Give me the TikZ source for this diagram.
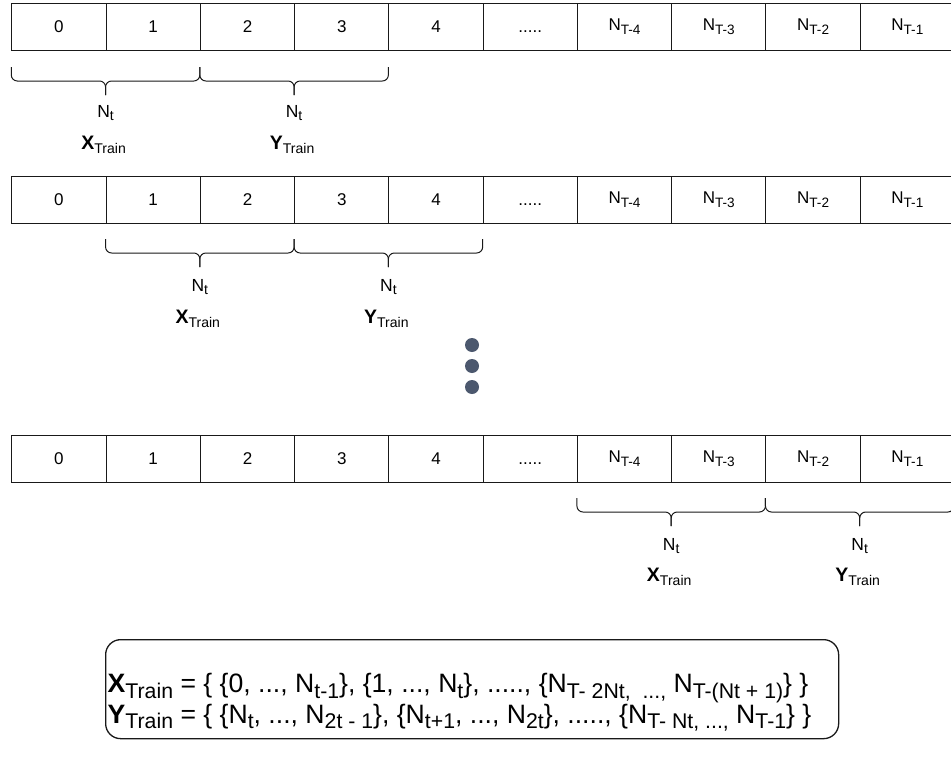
\documentclass[tikz,border=0pt]{standalone}
\usepackage{fontspec}
\setmainfont{Liberation Sans}
\usepackage{graphicx}
\newcommand\Sb[1]{\raisebox{-0.22em}{\scalebox{0.8}{#1}}}
\newcommand\St[1]{\raisebox{-0.22em}{\scalebox{0.72}{#1}}}
\newcommand\fivedots{\vphantom{0}.....}
\definecolor{dotcol}{RGB}{76,88,110}
\definecolor{linecol}{RGB}{25,25,25}
\tikzset{
  cell/.style={draw=linecol, line width=1pt, minimum width=94.27pt, minimum height=47pt,
    inner sep=0pt, anchor=north west, font=\fontsize{17}{20}\selectfont},
  bracepath/.style={draw=linecol, line width=1pt, rounded corners=6pt},
  ntlabel/.style={inner sep=0pt, font=\fontsize{17.5}{20}\selectfont},
  setlabel/.style={inner sep=0pt, font=\fontsize{19.5}{22}\selectfont},
  dotnode/.style={circle, fill=dotcol, minimum size=14pt, inner sep=0pt},
  formbox/.style={draw=linecol, line width=1.3pt, rounded corners=15pt, minimum width=733pt,
    minimum height=99pt, anchor=north west, inner sep=0pt},
  formtext/.style={inner sep=0pt, anchor=west, align=left, font=\fontsize{26.6}{29.5}\selectfont}
}
\newcommand\curly[3]{% x1, x2, ytop
  \draw[bracepath] (#1,#3) -- (#1,#3+14) -- ({(#1+#2)/2},#3+14) -- ({(#1+#2)/2},#3+28);
  \draw[bracepath] (#2,#3) -- (#2,#3+14) -- ({(#1+#2)/2},#3+14) -- ({(#1+#2)/2},#3+28);
}
\begin{document}
\begin{tikzpicture}[x=1pt,y=-1pt]
\useasboundingbox (0,0) rectangle (951,771);
\fill[white] (0,0) rectangle (951,771);
% rows of cells
\foreach \r/\y in {a/3,b/176,c/435}{
  \foreach \i/\t in {0/0,1/1,2/2,3/3,4/4,5/\fivedots,6/N\Sb{T-4},7/N\Sb{T-3},8/N\Sb{T-2},9/N\Sb{T-1}}{
    \node[cell] (\r\i) at ({11.3+94.27*\i},\y) {\t};
  }
}
% braces row 1
\curly{11.3}{199.84}{67}
\curly{199.84}{388.38}{67}
\node[ntlabel] (a-nx) at (105.6,113) {N\Sb{t}};
\node[ntlabel] (a-ny) at (294.1,113) {N\Sb{t}};
\node[setlabel] (a-x) at (103.6,145) {\textbf{X}\St{Train}};
\node[setlabel] (a-y) at (292.1,145) {\textbf{Y}\St{Train}};
% braces row 2
\curly{105.57}{294.11}{239}
\curly{294.11}{482.65}{239}
\node[ntlabel] (b-nx) at (199.8,287) {N\Sb{t}};
\node[ntlabel] (b-ny) at (388.4,287) {N\Sb{t}};
\node[setlabel] (b-x) at (197.8,319) {\textbf{X}\St{Train}};
\node[setlabel] (b-y) at (386.4,319) {\textbf{Y}\St{Train}};
% dots
\node[dotnode] (d1) at (472,345) {};
\node[dotnode] (d2) at (472,366) {};
\node[dotnode] (d3) at (472,387) {};
% braces row 3
\curly{576.92}{765.46}{498}
\curly{765.46}{954}{498}
\node[ntlabel] (c-nx) at (671.2,546) {N\Sb{t}};
\node[ntlabel] (c-ny) at (859.7,546) {N\Sb{t}};
\node[setlabel] (c-x) at (669.2,577) {\textbf{X}\St{Train}};
\node[setlabel] (c-y) at (857.7,577) {\textbf{Y}\St{Train}};
% formula box
\node[formbox] (fbox) at (105,639) {};
\node[formtext] (ftext) at (107.5,702.5) {%
\textbf{X}\Sb{Train} = \{ \{0, ..., N\Sb{t-1}\}, \{1, ..., N\Sb{t}\}, \fivedots, \{N\Sb{T- 2Nt,~ ...,} N\Sb{T-(Nt + 1)}\} \}\\
\textbf{Y}\Sb{Train} = \{ \{N\Sb{t}, ..., N\Sb{2t - 1}\}, \{N\Sb{t+1}, ..., N\Sb{2t}\}, \fivedots, \{N\Sb{T- Nt, ...,} N\Sb{T-1}\} \}};
\end{tikzpicture}
\end{document}
